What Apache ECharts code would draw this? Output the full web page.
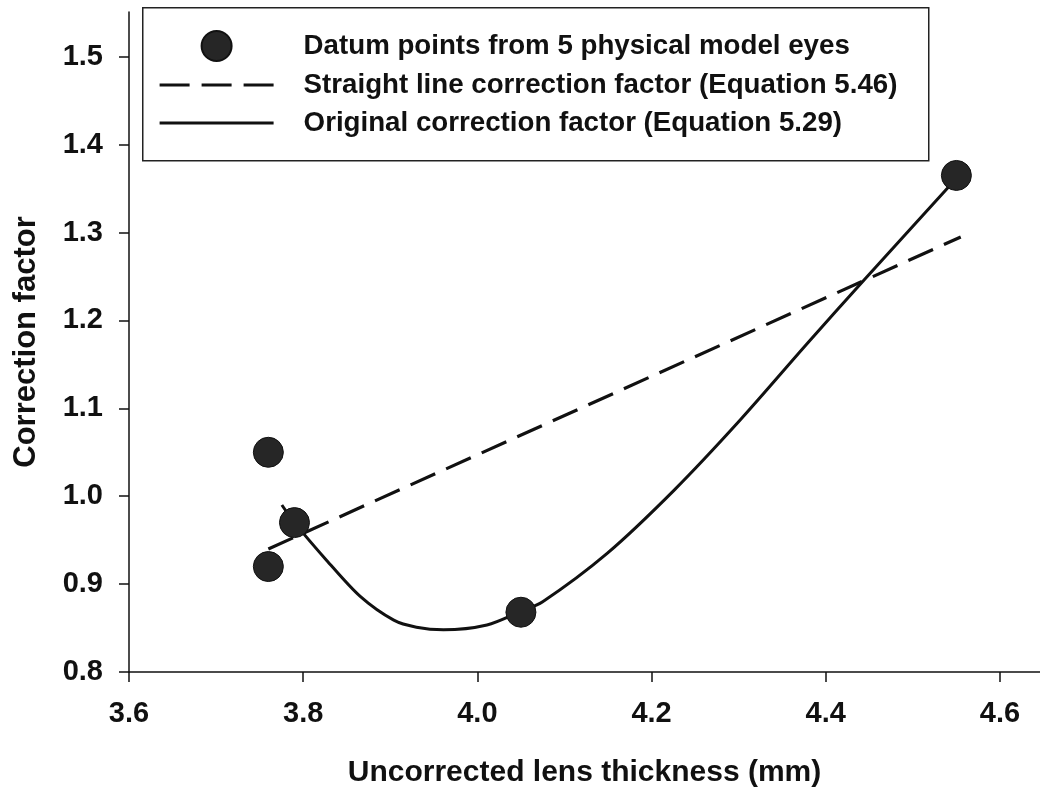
<!DOCTYPE html>
<html>
<head>
<meta charset="utf-8">
<script src="https://cdn.jsdelivr.net/npm/echarts@6/dist/echarts.min.js"></script>
<style>html,body{margin:0;padding:0;background:#fff}#c{width:1040px;height:795px}</style>
</head>
<body>
<div id="c"></div>
<script>
// Data
const pointX = [3.76, 3.76, 3.79, 4.05, 4.55];
const pointY = [1.05, 0.92, 0.97, 0.868, 1.365];
const straightX = [3.76, 4.555];
const straightY = [0.94, 1.295];
const originalX = [3.7755, 3.79, 3.827, 3.8655, 3.904, 3.93, 3.961, 4.011, 4.049, 4.075, 4.149, 4.226, 4.302, 4.379, 4.444, 4.553];
const originalY = [0.990, 0.970, 0.927, 0.886, 0.859, 0.851, 0.848, 0.8535, 0.8686, 0.880, 0.935, 1.007, 1.087, 1.174, 1.246, 1.365];
const xTicks = [3.6, 3.8, 4.0, 4.2, 4.4, 4.6];
const yTicks = [0.8, 0.9, 1.0, 1.1, 1.2, 1.3, 1.4, 1.5];
const seriesNames = [
  'Datum points from 5 physical model eyes',
  'Straight line correction factor (Equation 5.46)',
  'Original correction factor (Equation 5.29)'
];
const xTitle = 'Uncorrected lens thickness (mm)';
const yTitle = 'Correction factor';

const FONT = "'Liberation Sans', Arial, Helvetica, sans-serif";
const zip = (a, b) => a.map((v, i) => [v, b[i]]);

const chart = echarts.init(document.getElementById('c'), null, {renderer: 'canvas'});
chart.setOption({
  animation: false,
  backgroundColor: '#fff',
  grid: {left: 129, right: 0, top: 12, bottom: 123, containLabel: false},
  xAxis: {
    type: 'value', min: 3.6, max: 4.646,
    name: xTitle, nameLocation: 'middle', nameGap: 86,
    nameTextStyle: {fontFamily: FONT, fontWeight: 'bold', fontSize: 30, color: '#111'},
    axisLine: {show: true, lineStyle: {color: '#111', width: 1.5}},
    axisTick: {show: true, inside: false, length: 10, lineStyle: {color: '#111', width: 1.5}, customValues: xTicks},
    axisLabel: {customValues: xTicks, formatter: v => v.toFixed(1), margin: 27,
      fontFamily: FONT, fontWeight: 'bold', fontSize: 29, color: '#111'},
    splitLine: {show: false}
  },
  yAxis: {
    type: 'value', min: 0.8, max: 1.551,
    name: yTitle, nameLocation: 'middle', nameGap: 87, nameRotate: 90,
    nameTextStyle: {fontFamily: FONT, fontWeight: 'bold', fontSize: 31, color: '#111'},
    axisLine: {show: true, lineStyle: {color: '#111', width: 1.5}},
    axisTick: {show: true, inside: false, length: 10, lineStyle: {color: '#111', width: 1.5}, customValues: yTicks},
    axisLabel: {customValues: yTicks, formatter: v => v.toFixed(1), margin: 26,
      fontFamily: FONT, fontWeight: 'bold', fontSize: 29, color: '#111'},
    splitLine: {show: false}
  },
  graphic: [{
    type: 'rect', left: 142, top: 7, z: -1,
    shape: {width: 786, height: 153},
    style: {fill: '#fff', stroke: '#222', lineWidth: 1.5}
  }],
  legend: {
    orient: 'vertical', left: 142, top: 7,
    padding: [23, 10, 18, 16],
    itemWidth: 114, itemHeight: 30, itemGap: 8,
    textStyle: {fontFamily: FONT, fontWeight: 'bold', fontSize: 27.7, color: '#111', padding: [0, 0, 0, 25], lineHeight: 30},
    data: [
      {name: seriesNames[0]},
      {name: seriesNames[1], itemStyle: {opacity: 0}, lineStyle: {opacity: 1, type: [30, 12], width: 3.2}},
      {name: seriesNames[2], itemStyle: {opacity: 0}, lineStyle: {opacity: 1, width: 3.2}}
    ]
  },
  series: [
    {
      name: seriesNames[1], type: 'line', data: zip(straightX, straightY),
      symbol: 'none', showSymbol: false, z: 2,
      lineStyle: {color: '#111', width: 3.2, type: [27, 12]},
      itemStyle: {color: '#111'}
    },
    {
      name: seriesNames[2], type: 'line', data: zip(originalX, originalY),
      symbol: 'none', showSymbol: false, smooth: 0.3, z: 2,
      lineStyle: {color: '#111', width: 3},
      itemStyle: {color: '#111'}
    },
    {
      name: seriesNames[0], type: 'scatter', data: zip(pointX, pointY),
      symbol: 'circle', symbolSize: 30, z: 3,
      itemStyle: {color: '#262626', opacity: 1, borderColor: '#111', borderWidth: 1}
    }
  ]
});
</script>
</body>
</html>
